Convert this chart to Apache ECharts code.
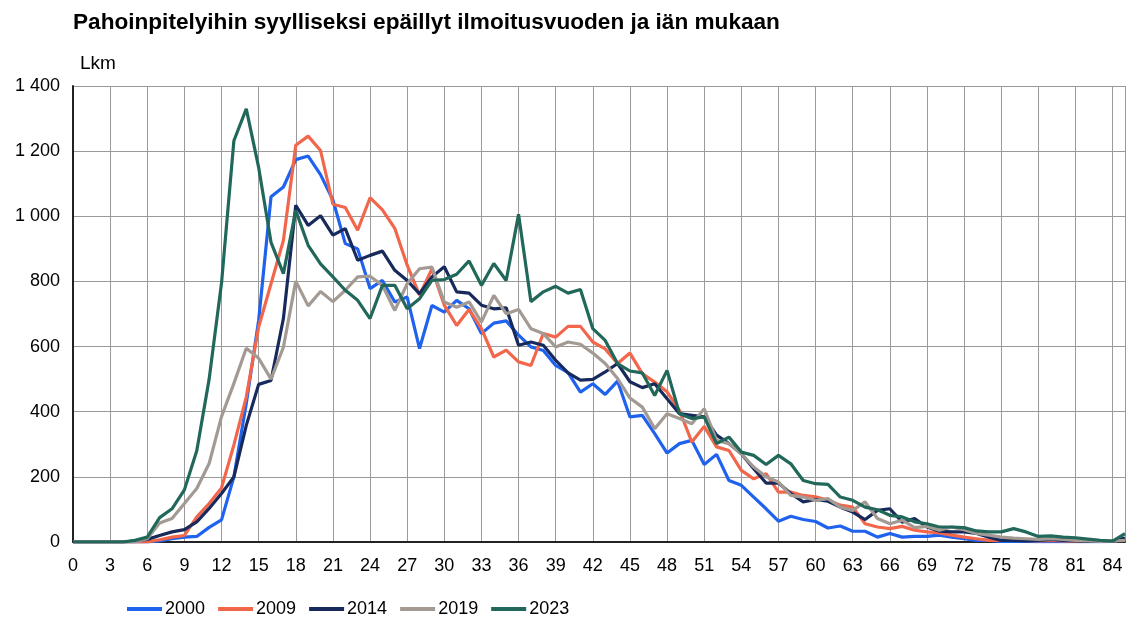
<!DOCTYPE html>
<html>
<head>
<meta charset="utf-8">
<script src="https://cdn.jsdelivr.net/npm/echarts@6/dist/echarts.min.js"></script>
<style>html,body{margin:0;padding:0;background:#fff}#c{width:1127px;height:617px}</style>
</head>
<body>
<div id="c"></div>
<script>
const ages = Array.from({length: 86}, (_, i) => i);
const seriesNames = ['2000', '2009', '2014', '2019', '2023'];
const v2000 = [0,0,0,0,0,0,0,3,10,15,17,45,68,200,425,680,1060,1090,1174,1185,1128,1050,916,900,778,803,737,752,594,726,706,742,716,640,672,679,635,599,588,542,520,460,486,453,494,384,389,333,273,302,312,238,269,189,174,138,102,64,79,69,63,43,49,33,33,15,26,15,17,17,21,15,10,5,5,2,2,2,1,1,1,1,1,1,2,10];
const v2009 = [0,0,0,0,0,0,0,7,15,20,77,118,166,298,445,660,793,926,1218,1246,1202,1037,1027,957,1057,1020,963,850,758,838,727,665,714,655,568,589,553,542,640,629,662,662,614,593,548,580,517,491,461,404,307,355,292,281,220,194,210,153,153,143,139,128,113,107,56,46,41,48,36,31,28,21,15,10,5,5,8,5,3,5,3,2,2,2,3,8];
const v2014 = [0,0,0,0,0,3,8,20,31,38,62,103,149,200,358,484,496,686,1034,972,1002,942,962,865,880,893,834,803,762,814,845,768,764,727,716,719,604,614,604,558,519,497,499,522,548,492,474,486,440,394,389,384,328,302,271,225,181,181,149,123,131,125,107,92,69,97,102,61,72,46,33,31,31,26,15,5,5,3,5,8,5,3,2,2,3,12];
const v2019 = [0,0,0,0,0,0,10,58,72,118,164,241,385,487,595,564,500,598,801,725,769,738,773,814,816,788,711,793,839,844,737,721,737,675,757,701,714,655,640,599,614,607,580,548,502,442,414,348,394,379,363,409,312,302,271,230,200,184,143,138,128,133,107,97,123,72,56,67,44,48,36,46,38,26,21,15,12,10,8,10,8,5,3,2,3,5];
const v2023 = [0,0,0,0,0,5,15,75,102,160,280,500,795,1232,1330,1150,920,824,1018,911,854,814,773,742,686,788,788,716,747,803,806,822,863,788,855,803,1006,738,768,785,764,775,655,619,548,525,519,450,527,394,379,384,302,322,276,266,238,266,240,189,179,177,138,128,107,99,82,77,62,56,46,46,44,34,31,31,41,31,17,19,15,13,9,5,3,26];
const colors = ['#1f62ee', '#f2674b', '#182a5c', '#a39a93', '#22685a'];
const yTicks = [0, 200, 400, 600, 800, 1000, 1200, 1400];

const allValues = [v2000, v2009, v2014, v2019, v2023];
const chart = echarts.init(document.getElementById('c'), null, {renderer: 'canvas'});
const fam = '"Liberation Sans", Arial, sans-serif';
chart.setOption({
  animation: false,
  backgroundColor: '#fff',
  textStyle: {fontFamily: fam},
  title: {
    text: 'Pahoinpitelyihin syylliseksi epäillyt ilmoitusvuoden ja iän mukaan',
    left: 68, top: 6,
    textStyle: {fontSize: 22.6, fontWeight: 'bold', color: '#000', fontFamily: fam}
  },
  graphic: [{
    type: 'text', left: 80, top: 54,
    style: {text: 'Lkm', fontSize: 19, fill: '#000', fontFamily: fam}
  }],
  legend: {
    left: 122, top: 595,
    itemWidth: 35, itemHeight: 4, itemGap: 13,
    icon: 'rect',
    textStyle: {fontSize: 18, color: '#000', fontFamily: fam, padding: [0, 0, 0, -2]},
    data: seriesNames
  },
  grid: {left: 73, right: 2, top: 86, bottom: 75, containLabel: false},
  xAxis: {
    type: 'value', min: 0, max: 85, interval: 3,
    axisLine: {show: true, onZero: false, lineStyle: {color: '#222', width: 2}},
    axisTick: {show: false},
    axisLabel: {fontSize: 18, color: '#000', margin: 15, showMaxLabel: false, fontFamily: fam},
    splitLine: {show: true, lineStyle: {color: '#9a9a9a', width: 1}}
  },
  yAxis: {
    type: 'value', min: 0, max: 1400, interval: 200,
    axisLine: {show: true, lineStyle: {color: '#222', width: 2}},
    axisTick: {show: false},
    axisLabel: {
      fontSize: 18, color: '#000', margin: 13, fontFamily: fam,
      formatter: v => String(v).replace(/\B(?=(\d{3})+(?!\d))/g, ' ')
    },
    splitLine: {show: true, lineStyle: {color: '#9a9a9a', width: 1}}
  },
  series: seriesNames.map((n, i) => ({
    name: n, type: 'line', symbol: 'none',
    data: ages.map((a, j) => [a, allValues[i][j]]),
    lineStyle: {width: 3.2, color: colors[i]},
    itemStyle: {color: colors[i]}
  }))
});
</script>
</body>
</html>
